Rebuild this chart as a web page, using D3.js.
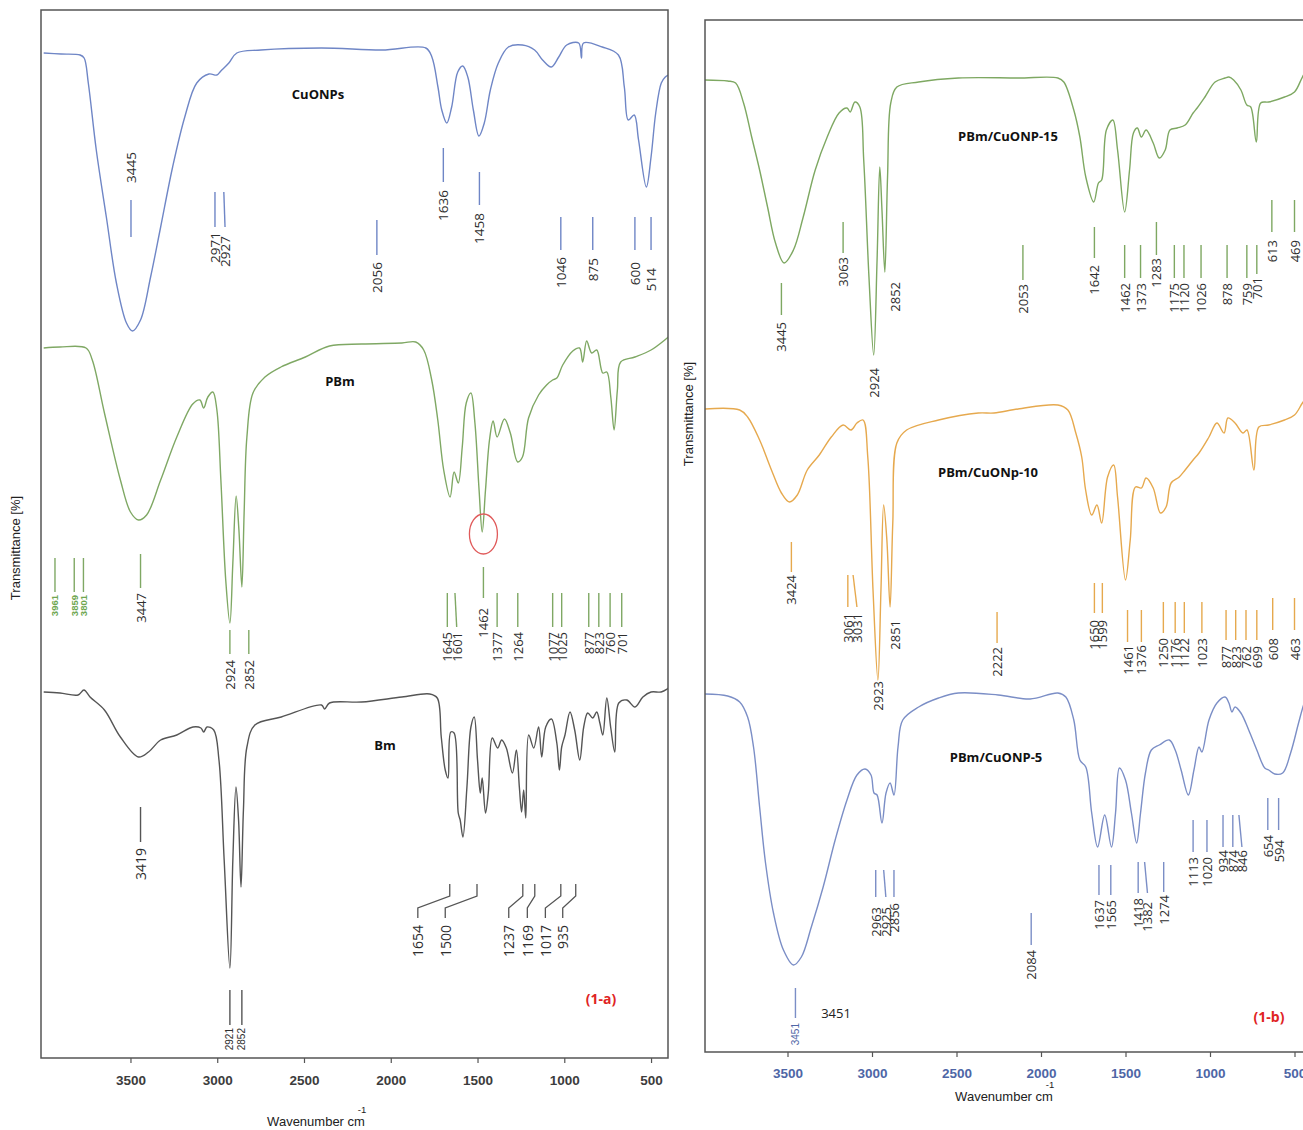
<!DOCTYPE html>
<html><head><meta charset="utf-8">
<script src="https://cdn.jsdelivr.net/npm/d3@7"></script>
<style>body{margin:0;background:#fff}svg{display:block}</style>
</head><body>
<svg id="c" width="1303" height="1130"></svg>
<script>
// ---------------- DATA (wavenumber cm-1, stacked transmittance a.u.) ----------------
const xTicks = [3500, 3000, 2500, 2000, 1500, 1000, 500];

const cuonps = [[4000,1005],[3900,1004],[3790,1003],[3767,1000],[3743,975],[3697,908],[3639,841],[3581,775],[3523,735],[3489,727],[3442,738],[3384,781],[3326,831],[3257,891],[3187,941],[3118,975],[3048,984],[3002,983],[2979,987],[2933,995],[2887,1005],[2748,1008],[2399,1010],[2051,1008],[1798,1010],[1763,1001],[1728,971],[1706,948],[1677,935],[1649,951],[1614,986],[1585,992],[1556,981],[1524,948],[1492,922],[1461,935],[1426,968],[1380,995],[1322,1011],[1241,1013],[1171,1008],[1125,998],[1075,991],[1032,1001],[986,1013],[917,1015],[901,1000],[889,1015],[781,1011],[688,1003],[654,971],[631,938],[597,943],[572,918],[527,871],[500,901],[473,945],[441,975],[418,981],[400,983]];

const pbm = [[4000,710],[3906,711],[3756,710],[3720,698],[3650,645],[3558,578],[3500,546],[3454,538],[3407,543],[3326,578],[3233,621],[3141,654],[3100,658],[3078,650],[3054,661],[3025,666],[3002,648],[2979,578],[2951,478],[2927,435],[2910,495],[2891,562],[2875,528],[2858,471],[2845,545],[2829,621],[2794,665],[2725,681],[2633,691],[2492,701],[2353,712],[2168,714],[1936,715],[1856,716],[1810,708],[1764,678],[1729,638],[1695,588],[1658,561],[1635,586],[1611,575],[1588,611],[1565,655],[1538,665],[1515,635],[1491,568],[1473,526],[1454,568],[1431,618],[1410,637],[1387,621],[1345,639],[1311,625],[1269,596],[1241,601],[1206,640],[1148,663],[1102,673],[1067,678],[1043,680],[1009,693],[951,707],[912,710],[894,696],[871,717],[842,705],[813,708],[778,685],[755,686],[732,661],[713,628],[694,668],[675,696],[593,701],[500,708],[407,720],[400,721]];

const bm = [[4000,366],[3906,365],[3802,363],[3768,368],[3733,361],[3650,348],[3558,321],[3454,301],[3396,306],[3326,318],[3233,323],[3140,331],[3094,330],[3078,326],[3059,331],[3020,328],[2990,298],[2960,198],[2927,90],[2910,198],[2892,271],[2877,238],[2863,171],[2849,248],[2829,311],[2783,333],[2631,341],[2399,353],[2381,349],[2353,355],[2168,356],[1936,361],[1775,364],[1732,360],[1709,321],[1686,288],[1670,280],[1654,326],[1635,325],[1611,245],[1600,238],[1584,221],[1561,271],[1538,331],[1519,341],[1500,298],[1484,265],[1473,280],[1454,245],[1438,265],[1415,320],[1384,310],[1361,318],[1334,310],[1299,285],[1276,308],[1259,271],[1246,246],[1234,268],[1222,240],[1205,323],[1176,310],[1148,331],[1130,301],[1107,331],[1074,339],[1043,315],[1028,288],[1015,311],[996,323],[967,346],[940,328],[911,298],[888,331],[865,345],[836,340],[813,346],[795,335],[778,323],[755,360],[732,330],[709,306],[686,355],[640,358],[593,351],[547,361],[500,366],[442,366],[407,369],[400,370]];

const cu15 = [[3990,972],[3854,971],[3807,969],[3760,949],[3712,915],[3665,882],[3618,845],[3571,809],[3520,789],[3465,802],[3407,835],[3336,882],[3265,915],[3195,939],[3148,944],[3129,940],[3101,950],[3072,945],[3049,892],[3018,775],[2990,697],[2970,792],[2954,885],[2941,842],[2924,780],[2908,875],[2889,949],[2853,965],[2724,970],[2489,974],[2136,974],[1900,974],[1865,970],[1806,942],[1770,915],[1735,875],[1688,850],[1660,869],[1641,872],[1613,922],[1575,932],[1547,902],[1505,840],[1476,882],[1453,919],[1430,924],[1406,915],[1378,922],[1336,909],[1300,894],[1265,902],[1237,922],[1194,924],[1147,927],[1100,939],[1076,944],[1030,955],[970,970],[911,974],[888,975],[860,972],[817,962],[782,947],[759,945],[726,910],[700,949],[653,950],[559,955],[500,960],[453,975],[400,990]];

const cu10 = [[3990,643],[3783,642],[3736,635],[3665,612],[3595,582],[3536,559],[3489,550],[3442,557],[3383,582],[3312,597],[3241,615],[3171,627],[3124,622],[3089,629],[3053,632],[3025,595],[2994,462],[2965,372],[2947,462],[2931,547],[2912,512],[2893,445],[2877,529],[2853,609],[2795,622],[2606,632],[2371,639],[2278,639],[2136,643],[1900,647],[1841,642],[1794,619],[1759,595],[1736,562],[1700,537],[1669,547],[1641,529],[1606,575],[1570,587],[1547,555],[1500,472],[1472,512],[1441,565],[1406,564],[1378,574],[1336,564],[1293,539],[1260,545],[1230,569],[1182,575],[1147,582],[1100,592],[1065,599],[1006,615],[959,629],[917,619],[894,634],[852,629],[805,619],[781,622],[740,582],[711,625],[653,627],[559,632],[500,637],[453,649],[400,662]];

const cu5 = [[3990,358],[3854,356],[3783,350],[3736,335],[3701,305],[3665,245],[3630,189],[3583,139],[3524,102],[3465,87],[3418,95],[3359,125],[3289,165],[3218,212],[3148,252],[3089,277],[3041,283],[3006,277],[2988,259],[2970,257],[2941,229],[2917,259],[2893,269],[2870,257],[2846,305],[2818,332],[2724,345],[2606,354],[2489,359],[2253,357],[2065,353],[1900,359],[1853,355],[1806,332],[1770,292],[1735,285],[1700,239],[1665,205],[1623,237],[1583,205],[1559,239],[1536,284],[1500,272],[1465,239],[1434,209],[1411,239],[1382,279],[1347,302],[1300,307],[1241,312],[1206,302],[1171,282],[1128,257],[1095,282],[1065,305],[1048,300],[1006,332],[959,349],[911,355],[888,349],[870,340],[852,345],[817,339],[771,322],[723,302],[676,284],[653,282],[617,278],[570,279],[523,299],[476,329],[450,345],[400,372]];

// peak annotations: [label, wavenumber at line top, line top px, line bottom px, label top px, wavenumber at line bottom]
const cuonpsPeaks = [["3445",3497,200,237,152],["2971",3013,192,227,232],["2927",2962,192,227,236,2955],["2056",2080,220,255,262],["1636",1697,148,182,190],["1458",1489,172,205,213],["1046",1020,217,250,257],["875",836,217,250,258],["600",593,217,250,262],["514",500,217,250,268]];
const pbmPeaksSmall = [["3961",3935,558,592,595],["3859",3824,558,592,595],["3801",3771,558,592,595]];
const pbmPeaks = [["3447",3442,554,588,593],["2924",2927,630,654,660],["2852",2818,630,654,660],["1645",1674,593,627,632],["1601",1630,593,627,632,1620],["1462",1466,567,598,608],["1377",1387,593,627,632],["1264",1268,593,627,632],["1077",1067,593,627,632],["1025",1015,593,627,632],["877",859,593,627,632],["823",801,593,627,632],["760",736,593,627,632],["701",669,593,627,632]];
const bmPeaks = [["3419",3442,807,842,848]];
const bmPeaksSmall = [["2921",2927,990,1025,1028],["2852",2858,990,1025,1028]];
const bmLeaders = [["1654",1660,1844],["1500",1503,1686],["1237",1239,1320],["1169",1170,1213],["1017",1020,1109],["935",934,1009]];

const cu15Peaks = [["3445",3536,283,315,322],["3063",3171,222,253,257],["2924",2990,null,null,368],["2852",2865,null,null,282],["2053",2107,245,280,284],["1642",1684,227,258,265],["1462",1505,245,278,283],["1373",1411,245,278,283],["1283",1317,222,255,258],["1175",1211,245,278,283],["1120",1154,245,278,283],["1026",1053,245,278,283],["878",899,245,278,283],["759",782,245,278,283],["701",723,245,274,277],["613",634,200,232,240],["469",500,200,232,240]];
const cu10Peaks = [["3424",3477,542,572,575],["3061",3143,575,607,613],["3031",3112,575,607,613,3089],["2923",2965,null,null,681],["2851",2865,null,null,620],["2222",2260,612,643,647],["1650",1684,583,613,620],["1599",1637,583,613,620],["1461",1488,610,642,645],["1376",1406,610,642,645],["1250",1276,602,633,638],["1176",1206,602,633,638],["1122",1152,602,633,638],["1023",1048,602,633,638],["877",905,610,640,646],["823",848,610,640,646],["762",787,610,640,646],["699",723,610,640,646],["608",629,598,630,638],["463",500,598,630,638]];
const cu5Peaks = [["2963",2978,870,897,907],["2925",2931,870,897,907,2918],["2856",2870,870,897,903],["2084",2058,913,945,950],["1637",1657,865,895,900],["1565",1587,865,895,900],["1418",1425,862,893,898],["1382",1387,862,893,902,1370],["1274",1274,862,892,895],["1113",1100,820,852,857],["1020",1018,820,852,857],["934",923,815,847,850],["874",865,815,847,850],["846",829,815,847,850,811],["654",658,798,830,835],["594",594,798,830,840]];
const cu5PeaksSmall = [["3451",3453,988,1018,1023]];

// ---------------- LAYOUT ----------------
const svg = d3.select("#c");
const FONT = "'Open Sans', 'Liberation Sans', Arial, sans-serif";
const ARIAL = "'Liberation Sans', Arial, sans-serif";

const L = {x0:41, y0:10, x1:668, y1:1058};
const R = {x0:705, y0:20, x1:1330, y1:1052};
const xL = d3.scaleLinear().domain([4000,400]).range([43.7,668.4]);
const yL = d3.scaleLinear().domain([0,1048]).range([1058,10]);
const xR = d3.scaleLinear().domain([4000,400]).range([703,1311.4]);
const yR = d3.scaleLinear().domain([0,1032]).range([1052,20]);

const defs = svg.append("defs");
defs.append("clipPath").attr("id","clipL").append("rect").attr("x",L.x0).attr("y",L.y0).attr("width",L.x1-L.x0).attr("height",L.y1-L.y0);
defs.append("clipPath").attr("id","clipR").append("rect").attr("x",R.x0).attr("y",R.y0).attr("width",R.x1-R.x0).attr("height",R.y1-R.y0);

const C = {blue:"#6f86c6", green:"#7fa864", gray:"#555555", orange:"#e6a94e", blue2:"#7b8ec6", green2:"#7ea862", text:"#2e2e2e"};

function drawSpectrum(data, x, y, color, clip){
  const line = d3.line().x(d=>x(d[0])).y(d=>y(d[1])).curve(d3.curveCatmullRom.alpha(0.5));
  svg.append("path").datum(data).attr("d",line).attr("fill","none")
    .attr("stroke",color).attr("stroke-width",1.4).attr("stroke-linejoin","round")
    .attr("clip-path",`url(#${clip})`);
}
drawSpectrum(cuonps, xL, yL, C.blue, "clipL");
drawSpectrum(pbm, xL, yL, C.green, "clipL");
drawSpectrum(bm, xL, yL, C.gray, "clipL");
drawSpectrum(cu15, xR, yR, C.green2, "clipR");
drawSpectrum(cu10, xR, yR, C.orange, "clipR");
drawSpectrum(cu5, xR, yR, C.blue2, "clipR");

function drawPeaks(list, x, lineColor, textColor, size, weight, family){
  const g = svg.append("g");
  list.forEach(([t,w,lt,lb,ty,wb])=>{
    const xt = x(w), xb = x(wb===undefined ? w : wb);
    if (lt !== null) {
      g.append("line").attr("x1",xt).attr("x2",xb).attr("y1",lt).attr("y2",lb)
        .attr("stroke",lineColor).attr("stroke-width",1.4);
    }
    g.append("text").attr("transform",`translate(${xb},${ty}) rotate(-90)`)
      .attr("text-anchor","end").attr("dominant-baseline","central")
      .attr("font-family",family||FONT).attr("font-size",size).attr("font-weight",weight||"normal")
      .attr("fill",textColor).text(t);
  });
}
drawPeaks(cuonpsPeaks, xL, C.blue, C.text, 13.5);
drawPeaks(pbmPeaksSmall, xL, C.green, "#6ea650", 9.5, "bold", ARIAL);
drawPeaks(pbmPeaks, xL, C.green, C.text, 13);
drawPeaks(bmPeaks, xL, C.gray, C.text, 14);
drawPeaks(bmPeaksSmall, xL, C.gray, C.text, 10, "normal", ARIAL);
drawPeaks(cu15Peaks, xR, C.green2, C.text, 13);
drawPeaks(cu10Peaks, xR, C.orange, C.text, 13);
drawPeaks(cu5Peaks, xR, C.blue2, C.text, 13);
drawPeaks(cu5PeaksSmall, xR, C.blue2, "#4f66a6", 10, "normal", ARIAL);

// leader-line labels for Bm
const gl = svg.append("g");
bmLeaders.forEach(([t,wt,wb])=>{
  const a = xL(wt), b = xL(wb);
  gl.append("path").attr("d",`M${a},884V896L${b},908V918`).attr("fill","none")
    .attr("stroke",C.gray).attr("stroke-width",1.3);
  gl.append("text").attr("transform",`translate(${b},925) rotate(-90)`)
    .attr("text-anchor","end").attr("dominant-baseline","central")
    .attr("font-family",FONT).attr("font-size",14).attr("fill",C.text).text(t);
});

// red circle around 1462 in PBm
svg.append("ellipse").attr("cx",xL(1466)).attr("cy",yL(524)).attr("rx",14).attr("ry",20)
  .attr("fill","none").attr("stroke","#e05a5a").attr("stroke-width",1.3);

// frames
svg.append("rect").attr("x",L.x0).attr("y",L.y0).attr("width",L.x1-L.x0).attr("height",L.y1-L.y0)
  .attr("fill","none").attr("stroke","#555").attr("stroke-width",1.5);
svg.append("rect").attr("x",R.x0).attr("y",R.y0).attr("width",R.x1-R.x0).attr("height",R.y1-R.y0)
  .attr("fill","none").attr("stroke","#555").attr("stroke-width",1.5);

// axes
function axis(x, yPos, color, pad){
  const g = svg.append("g").attr("transform",`translate(0,${yPos})`)
    .call(d3.axisBottom(x).tickValues(xTicks).tickSize(5).tickPadding(pad).tickFormat(d3.format("d")));
  g.select(".domain").remove();
  g.selectAll(".tick line").attr("stroke","#555").attr("stroke-width",1.2);
  g.selectAll(".tick text").attr("font-family",ARIAL).attr("font-size",13.5).attr("font-weight","bold")
    .attr("fill",color);
}
axis(xL, L.y1, "#3c3c3c", 12);
axis(xR, R.y1, "#4e66a6", 11);

// axis titles
function ytitle(x, y){
  svg.append("text").attr("transform",`translate(${x},${y}) rotate(-90)`).attr("text-anchor","middle")
    .attr("dominant-baseline","central").attr("font-family",ARIAL).attr("font-size",13).attr("fill","#222")
    .text("Transmittance [%]");
}
ytitle(15, 548); ytitle(688, 414);
function xtitle(x, y){
  svg.append("text").attr("x",x).attr("y",y).attr("text-anchor","middle").attr("font-family",ARIAL)
    .attr("font-size",13).attr("fill","#222").text("Wavenumber cm");
  svg.append("text").attr("x",x+46).attr("y",y-13).attr("text-anchor","middle").attr("font-family",ARIAL)
    .attr("font-size",9.5).attr("fill","#222").text("-1");
}
xtitle(316, 1126); xtitle(1004, 1101);

// spectrum names
const names = [["CuONPs",318,99],["PBm",340,386],["Bm",385,750],["PBm/CuONP-15",1008,141],["PBm/CuONp-10",988,477],["PBm/CuONP-5",996,762]];
names.forEach(([t,x,y])=>svg.append("text").attr("x",x).attr("y",y).attr("text-anchor","middle")
  .attr("font-family",FONT).attr("font-weight","bold").attr("font-size",13).attr("fill","#111").text(t));

// panel tags & extra text
svg.append("text").attr("x",601).attr("y",1004).attr("text-anchor","middle").attr("font-family",FONT)
  .attr("font-weight","bold").attr("font-size",14).attr("fill","#e02424").text("(1-a)");
svg.append("text").attr("x",1269).attr("y",1022).attr("text-anchor","middle").attr("font-family",FONT)
  .attr("font-weight","bold").attr("font-size",14).attr("fill","#e02424").text("(1-b)");
svg.append("text").attr("x",836).attr("y",1018).attr("text-anchor","middle").attr("font-family",FONT)
  .attr("font-size",13).attr("fill","#222").text("3451");
</script>
</body></html>
